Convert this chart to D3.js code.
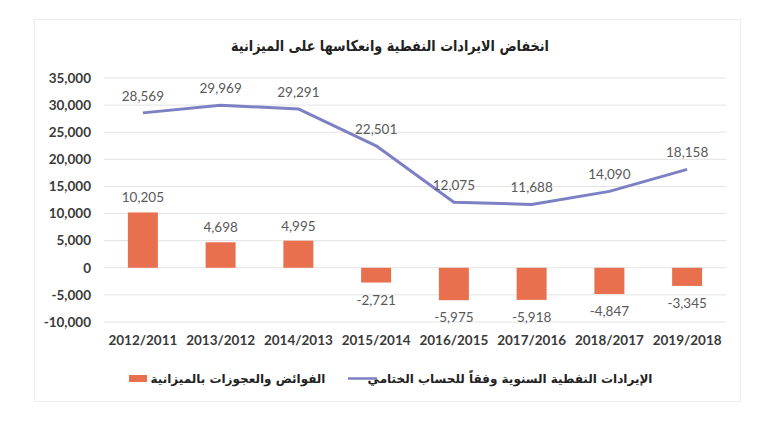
<!DOCTYPE html>
<html><head><meta charset="utf-8">
<script src="https://cdn.jsdelivr.net/npm/d3@7/dist/d3.min.js"></script>
<style>body{margin:0;background:#fff}svg{display:block}</style>
</head><body><svg id="c" width="770" height="421"></svg>
<script>
const categories = ["2012/2011","2013/2012","2014/2013","2015/2014","2016/2015","2017/2016","2018/2017","2019/2018"];
const revenue = [28569, 29969, 29291, 22501, 12075, 11688, 14090, 18158];
const balance = [10205, 4698, 4995, -2721, -5975, -5918, -4847, -3345];
const yTicks = [35000, 30000, 25000, 20000, 15000, 10000, 5000, 0, -5000, -10000];
const title = "انخفاض الايرادات النفطية وانعكاسها على الميزانية";
const legendBar = "الفوائض والعجوزات بالميزانية";
const legendLine = "الإيرادات النفطية السنوية وفقاً للحساب الختامي";

const svg = d3.select("#c");
const barColor = "#E8704F", lineColor = "#7D80C4";
const latin = "Lato, 'Open Sans', sans-serif";
const arab = "'DejaVu Sans', sans-serif";

// frame
svg.append("rect").attr("x",34.5).attr("y",19.5).attr("width",706).attr("height",382)
  .attr("fill","none").attr("stroke","#ececec").attr("stroke-width",1);

const x = d3.scaleBand().domain(categories).range([104, 726]);
const y = d3.scaleLinear().domain([-10000, 35000]).range([322, 78]);
const fmt = d3.formatLocale({decimal:".", thousands:",", grouping:[3], currency:["",""], minus:"-"}).format(",");

// gridlines
svg.append("g").selectAll("line").data(yTicks).join("line")
  .attr("x1",104).attr("x2",726).attr("y1",d=>y(d)).attr("y2",d=>y(d))
  .attr("stroke","#e3e3e3").attr("stroke-width",1);

// y axis
const yAxis = d3.axisLeft(y).tickValues(yTicks).tickFormat(fmt).tickSize(0).tickPadding(0);
const gy = svg.append("g").attr("transform","translate(91,0)").call(yAxis);
gy.select(".domain").remove();
gy.selectAll("text").attr("font-family",latin).attr("font-weight","bold").attr("font-size",13.5).attr("fill","#3a3a3a");

// x axis
const xAxis = d3.axisBottom(x).tickSize(0).tickPadding(0);
const gx = svg.append("g").attr("transform","translate(0,335)").call(xAxis);
gx.select(".domain").remove();
gx.selectAll("text").attr("font-family",latin).attr("font-weight","bold").attr("font-size",13.5).attr("fill","#3a3a3a");

// bars
const bw = 30;
svg.append("g").selectAll("rect").data(balance).join("rect")
  .attr("x",(d,i)=>x(categories[i]) + x.bandwidth()/2 - bw/2)
  .attr("width",bw)
  .attr("y",d=>Math.min(y(d),y(0)))
  .attr("height",d=>Math.abs(y(d)-y(0)))
  .attr("fill",barColor);

svg.append("g").selectAll("text").data(balance).join("text")
  .attr("x",(d,i)=>x(categories[i]) + x.bandwidth()/2)
  .attr("y",d=> d>=0 ? y(d)-10 : y(d)+22)
  .attr("text-anchor","middle").attr("font-family",latin).attr("font-size",13.5).attr("fill","#595959")
  .text(d=>fmt(d));

// line
const line = d3.line().x((d,i)=>x(categories[i]) + x.bandwidth()/2).y(d=>y(d));
svg.append("path").datum(revenue).attr("d",line).attr("fill","none")
  .attr("stroke",lineColor).attr("stroke-width",3).attr("stroke-linejoin","round");

svg.append("g").selectAll("text").data(revenue).join("text")
  .attr("x",(d,i)=>x(categories[i]) + x.bandwidth()/2)
  .attr("y",d=>y(d)-12)
  .attr("text-anchor","middle").attr("font-family",latin).attr("font-size",13.5).attr("fill","#595959")
  .text(d=>fmt(d));

// title
svg.append("text").attr("x",390).attr("y",51).attr("text-anchor","middle")
  .attr("font-family",arab).attr("font-weight","bold").attr("font-size",15).attr("fill","#222")
  .attr("textLength",318).attr("lengthAdjust","spacingAndGlyphs")
  .text(title);

// legend
svg.append("rect").attr("x",129).attr("y",375).attr("width",18).attr("height",7).attr("fill",barColor);
svg.append("text").attr("x",238).attr("y",383).attr("text-anchor","middle")
  .attr("font-family",arab).attr("font-weight","bold").attr("font-size",12).attr("fill","#222").text(legendBar);
svg.append("line").attr("x1",348).attr("x2",377).attr("y1",378.5).attr("y2",378.5).attr("stroke",lineColor).attr("stroke-width",2.5);
svg.append("text").attr("x",510).attr("y",383).attr("text-anchor","middle")
  .attr("font-family",arab).attr("font-weight","bold").attr("font-size",12).attr("fill","#222").text(legendLine);
</script></body></html>
